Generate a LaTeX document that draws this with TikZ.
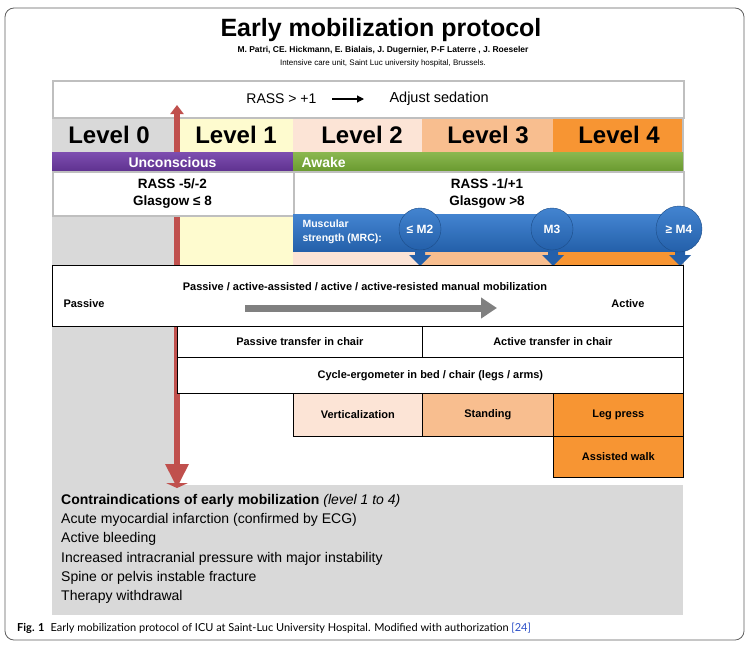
\documentclass[tikz,border=0pt]{standalone}
\usepackage{fontspec}
\setmainfont{Liberation Sans}
\newfontfamily\capfont{Lato}
\usetikzlibrary{arrows.meta}
\definecolor{lzero}{HTML}{D9D9D9}
\definecolor{lone}{HTML}{FEFBCF}
\definecolor{ltwo}{HTML}{FCE4D6}
\definecolor{lthree}{HTML}{F8BE8F}
\definecolor{lfour}{HTML}{F79533}
\definecolor{bordgray}{HTML}{BFBFBF}
\definecolor{framegray}{HTML}{606060}
\definecolor{redarr}{HTML}{C0504D}
\definecolor{grayarr}{HTML}{808080}
\definecolor{purtop}{HTML}{7E4EB0}
\definecolor{purbot}{HTML}{5F3290}
\definecolor{grntop}{HTML}{8BB850}
\definecolor{grnbot}{HTML}{6A9A30}
\definecolor{blutop}{HTML}{4384D0}
\definecolor{blubot}{HTML}{2460AA}
\definecolor{linkblue}{HTML}{2B4FC8}
\tikzset{
  lvltext/.style={font=\bfseries\fontsize{24}{26}\selectfont},
  bartext/.style={text=white, font=\bfseries\fontsize{14}{16}\selectfont},
  statustext/.style={align=center, font=\bfseries\fontsize{13.5}{17}\selectfont},
  cell/.style={draw=black, line width=0.7pt},
  celltext/.style={font=\bfseries\fontsize{11}{13}\selectfont},
  circtext/.style={text=white, font=\bfseries\fontsize{12}{14}\selectfont},
  mscircle/.style={circle, minimum size=42pt, inner sep=0pt, top color=blutop, bottom color=blubot, draw=blubot!80!black, line width=0.4pt},
}
\begin{document}
\begin{tikzpicture}[x=1pt,y=-1pt]
\useasboundingbox (0,0) rectangle (749,645);
\fill[white] (0,0) rectangle (749,645);
\draw[framegray, line width=0.8pt, rounded corners=9pt] (5,8) rectangle (744,640);

% title
\node[font=\bfseries\fontsize{25}{28}\selectfont] (title) at (381,30) {Early mobilization protocol};
\node[font=\bfseries\fontsize{8.5}{10}\selectfont] (authors) at (383,50) {M. Patri, CE. Hickmann, E. Bialais, J. Dugernier, P-F Laterre , J. Roeseler};
\node[font=\fontsize{8}{10}\selectfont] (inst) at (383,63) {Intensive care unit, Saint Luc university hospital, Brussels.};

% columns
\fill[lzero] (52,117) rectangle (177,485);
\fill[lone] (177,117) rectangle (293,265);
\fill[ltwo] (293,117) rectangle (422,265);
\fill[lthree] (422,117) rectangle (553,265);
\fill[lfour] (553,117) rectangle (683,265);
\draw[bordgray, line width=1.5pt] (683,80) -- (683,265);

% RASS top box
\node[draw=bordgray, line width=1.8pt, fill=white, minimum width=631pt, minimum height=37pt, anchor=north west, inner sep=0pt] (rassbox) at (52,80) {};
\node[font=\fontsize{14}{16}\selectfont, anchor=east] (rassgt) at (320,99) {RASS > +1};
\node[font=\fontsize{14.5}{16}\selectfont, anchor=west] (adjust) at (386,99) {Adjust sedation};
\draw[black, line width=1.2pt, -{Triangle[width=7pt,length=7pt]}] ([xshift=12pt]rassgt.east) -- ([xshift=-22pt]adjust.west);

% level labels
\node[lvltext] (lv0) at (109,135) {Level 0};
\node[lvltext] (lv1) at (236,135) {Level 1};
\node[lvltext] (lv2) at (362,135) {Level 2};
\node[lvltext] (lv3) at (488,135) {Level 3};
\node[lvltext] (lv4) at (619,135) {Level 4};

% red arrow (behind status boxes)
\draw[redarr, line width=6pt, {Triangle[width=13pt,length=9pt]}-{Triangle[width=22pt,length=24pt]}] (177,105) -- (177,488);

% consciousness bars
\shade[top color=purtop, bottom color=purbot] (52,152) rectangle (293,171);
\shade[top color=grntop, bottom color=grnbot] (293,152) rectangle (683,171);
\node[bartext] (uncon) at (172.5,162) {Unconscious};
\node[bartext, anchor=west] (awake) at (298,162) {Awake};

% status boxes
\node[draw=bordgray, line width=1.5pt, fill=white, minimum width=241pt, minimum height=44pt, anchor=north west, inner sep=0pt] (st0) at (52,171) {};
\node[draw=bordgray, line width=1.5pt, fill=white, minimum width=390pt, minimum height=44pt, anchor=north west, inner sep=0pt] (st1) at (293,171) {};
\node[statustext] (rass0) at (172.5,194) {RASS -5/-2\\Glasgow ≤ 8};
\node[statustext] (rass1) at (487,194) {RASS -1/+1\\Glasgow >8};

% muscular strength bar
\foreach \xx in {420,553,680}{
  \fill[blubot] (\xx-5,246) -- (\xx+5,246) -- (\xx+5,255) -- (\xx+11,255) -- (\xx,266) -- (\xx-11,255) -- (\xx-5,255) -- cycle;
}
\shade[top color=blutop, bottom color=blubot] (293,214) rectangle (683,251);
\node[text=white, anchor=west, align=left, font=\bfseries\fontsize{10.5}{14}\selectfont] (musc) at (299,232) {Muscular\\strength (MRC):};
\node[mscircle] (m2) at (420,229) {};
\node[mscircle] (m3) at (552,229) {};
\node[mscircle, minimum size=46pt] (m4) at (679,229) {};
\node[circtext] (m2t) at (m2) {≤ M2};
\node[circtext] (m3t) at (m3) {M3};
\node[circtext] (m4t) at (m4) {≥ M4};

% passive box
\node[cell, fill=white, minimum width=631pt, minimum height=61pt, anchor=north west, inner sep=0pt] (pbox) at (52,265) {};
\node[celltext] (pmanual) at (365,287) {Passive / active-assisted / active / active-resisted manual mobilization};
\node[celltext, anchor=west] (ppassive) at (60,304) {Passive};
\node[celltext, anchor=east] (pactive) at (648,304) {Active};
\draw[grayarr, line width=7pt, -{Triangle[width=20pt,length=16pt]}] (245,308) -- (497,308);

% transfer row
\node[cell, fill=white, minimum width=245pt, minimum height=31pt, anchor=north west, inner sep=0pt, celltext] (ptrans) at (177,326) {Passive transfer in chair};
\node[cell, fill=white, minimum width=261pt, minimum height=31pt, anchor=north west, inner sep=0pt, celltext] (atrans) at (422,326) {Active transfer in chair};

% cycle row
\node[cell, fill=white, minimum width=506pt, minimum height=36pt, anchor=north west, inner sep=0pt, celltext] (cycle) at (177,357) {Cycle-ergometer in bed / chair (legs / arms)};

% verticalization row
\node[cell, fill=ltwo, minimum width=129pt, minimum height=43pt, anchor=north west, inner sep=0pt, celltext] (vert) at (293,393) {Verticalization};
\node[cell, fill=lthree, minimum width=131pt, minimum height=43pt, anchor=north west, inner sep=0pt, celltext] (stand) at (422,393) {Standing};
\node[cell, fill=lfour, minimum width=130pt, minimum height=43pt, anchor=north west, inner sep=0pt, celltext] (leg) at (553,393) {Leg press};
\node[cell, fill=lfour, minimum width=130pt, minimum height=41pt, anchor=north west, inner sep=0pt, celltext] (walk) at (553,436) {Assisted walk};

% contraindications
\node[fill=lzero, minimum width=631pt, minimum height=130pt, anchor=north west, inner sep=0pt] (contra) at (52,485) {};
\node[anchor=north west, align=left, inner sep=0pt, font=\fontsize{14}{19.3}\selectfont] (contratext) at (61,494) {\textbf{Contraindications of early mobilization} \textit{(level 1 to 4)}\\Acute myocardial infarction (confirmed by ECG)\\Active bleeding\\Increased intracranial pressure with major instability\\Spine or pelvis instable fracture\\Therapy withdrawal};
\fill[redarr] (166,483) -- (188,483) -- (177,488) -- cycle;

% caption
\node[anchor=west, inner sep=0pt, font=\capfont\fontsize{11}{13}\selectfont] (caption) at (17,628) {\textbf{Fig. 1}\hspace{6pt}Early mobilization protocol of ICU at Saint-Luc University Hospital. Modified with authorization \textcolor{linkblue}{[24]}};
\end{tikzpicture}
\end{document}
